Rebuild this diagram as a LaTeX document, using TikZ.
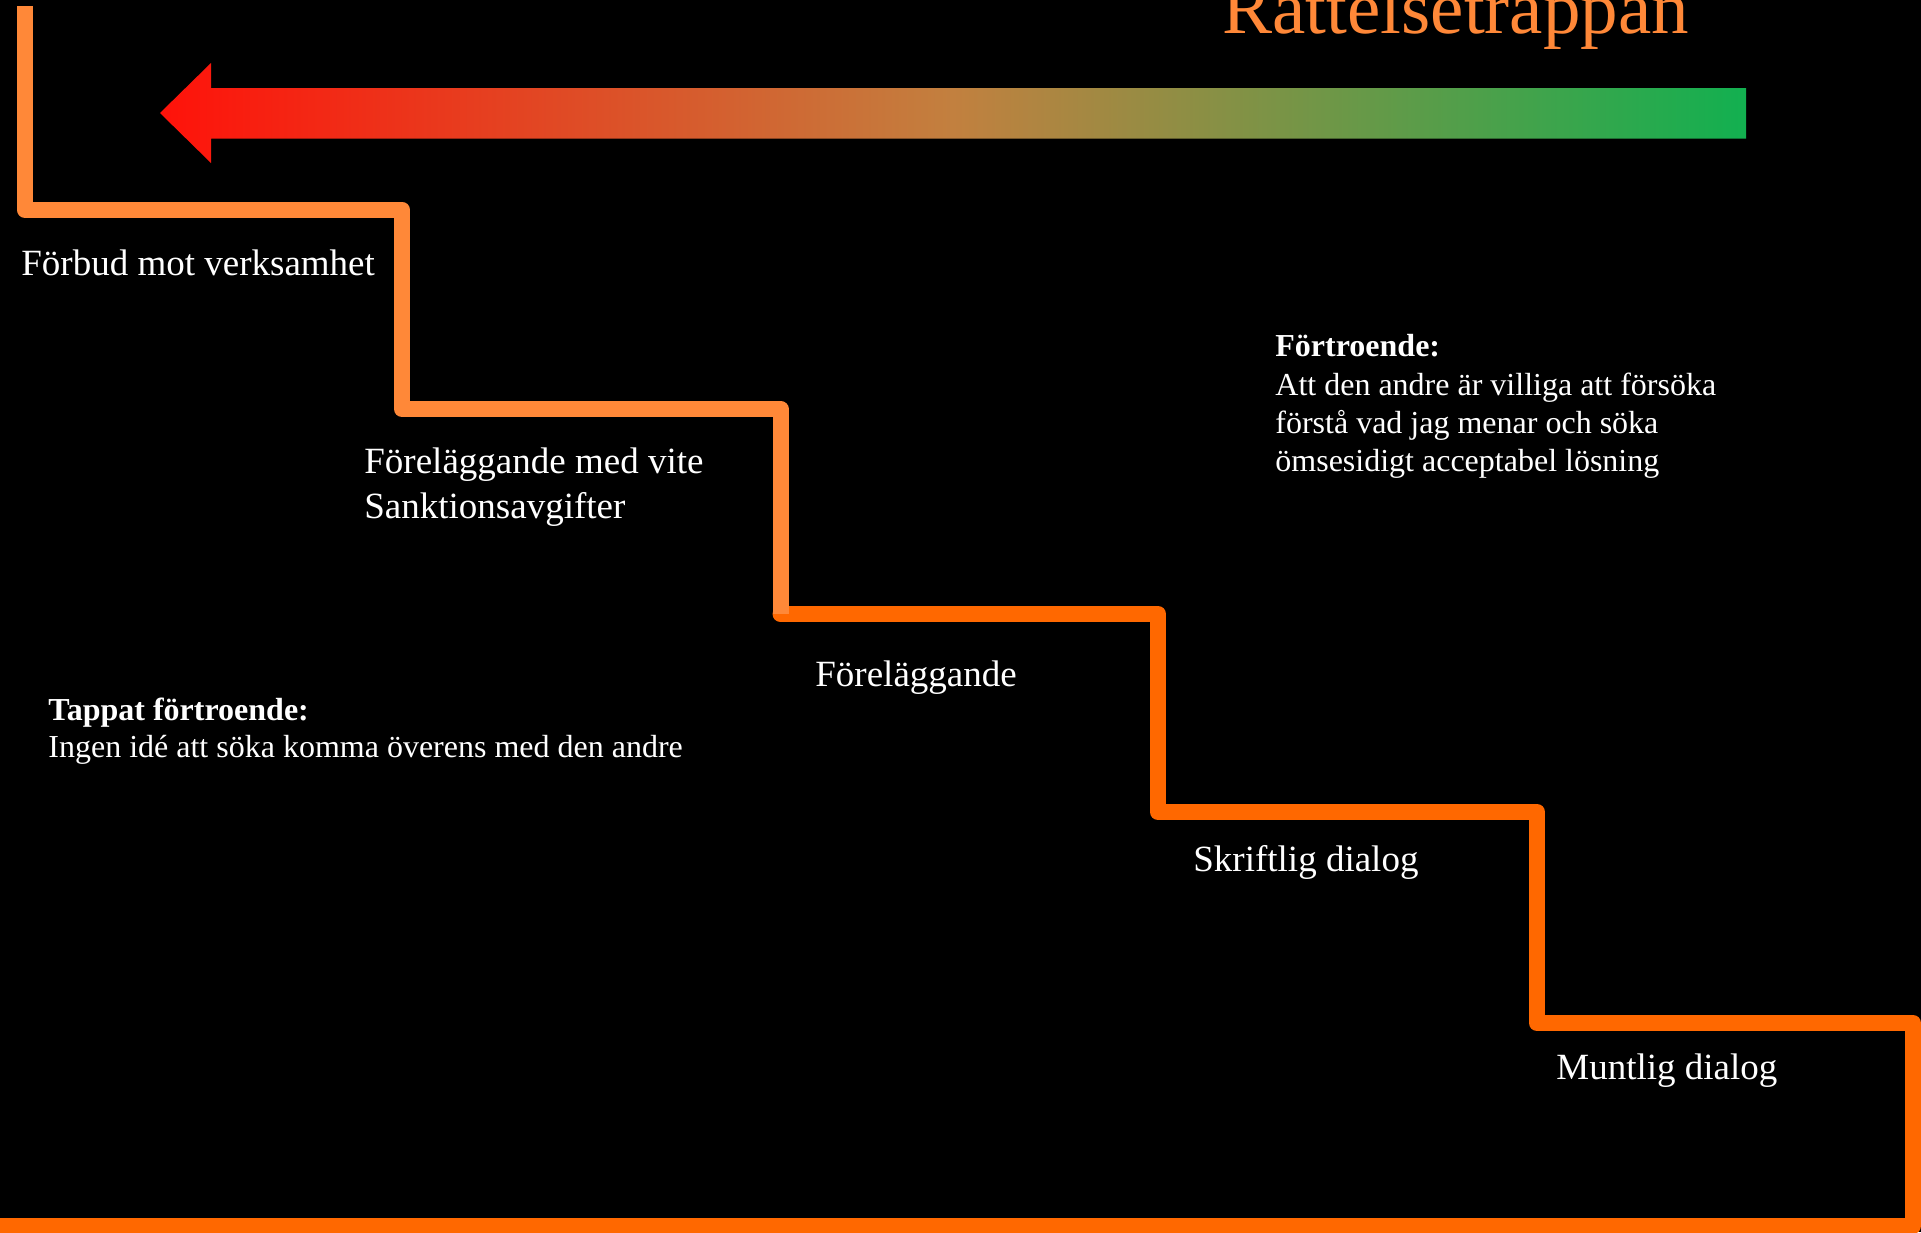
\documentclass[tikz,border=0pt]{standalone}
\usepackage{fontspec}
\setmainfont{Liberation Serif}
\definecolor{stairlight}{RGB}{255,136,56}
\definecolor{stairdark}{RGB}{255,104,0}
\definecolor{arrred}{RGB}{255,18,10}
\definecolor{arrmid}{RGB}{194,128,63}
\definecolor{arrgreen}{RGB}{18,176,80}
\begin{document}
\begin{tikzpicture}[x=0.5pt,y=-0.5pt,
  lbl/.style={anchor=base west, inner sep=0pt, text=white, font=\fontsize{18.5}{22.25}\selectfont},
  note/.style={anchor=base west, inner sep=0pt, text=white},
  stair/.style={line width=8pt, line join=round}]
\useasboundingbox (0,0) rectangle (1921,1232);
\fill[black] (0,0) rectangle (1921,1232);
\clip (0,0) rectangle (1921,1232);

% title
\node[anchor=base west, inner sep=0pt, text=stairlight, font=\fontsize{37.5}{45}\selectfont] (title) at (1222,33) {Rättelsetrappan};

% gradient arrow
\shade[left color=arrred, right color=arrgreen, middle color=arrmid]
  (160,113) -- (211,63) -- (211,88) -- (1746,88) -- (1746,138.5) -- (211,138.5) -- (211,163) -- cycle;

% staircase
\draw[stair, stairdark, line cap=round] (780.5,614) -- (1158,614) -- (1158,812) -- (1537,812) -- (1537,1023) -- (1913,1023) -- (1913,1226) -- (-20,1226);
\draw[stair, stairlight, line cap=butt] (24.5,6) -- (24.5,209.5) -- (402,209.5) -- (402,409) -- (780.5,409) -- (780.5,614);

% step labels
\node[lbl] (s1) at (21,275) {Förbud mot verksamhet};
\node[lbl] (s2) at (364,473.5) {\begin{tabular}[t]{@{}l@{}}Föreläggande med vite\\Sanktionsavgifter\end{tabular}};
\node[lbl] (s3) at (815,686) {Föreläggande};
\node[lbl] (s4) at (1193,871) {Skriftlig dialog};
\node[lbl] (s5) at (1556,1079) {Muntlig dialog};

% notes
\node[note, font=\fontsize{16}{19.2}\selectfont] (trust) at (1275,356.7) {\begin{tabular}[t]{@{}l@{}}\textbf{Förtroende:}\\Att den andre är villiga att försöka\\förstå vad jag menar och söka\\ömsesidigt acceptabel lösning\end{tabular}};
\node[note, font=\fontsize{16}{18.5}\selectfont] (lost) at (48,720) {\begin{tabular}[t]{@{}l@{}}\textbf{Tappat förtroende:}\\Ingen idé att söka komma överens med den andre\end{tabular}};
\end{tikzpicture}
\end{document}
